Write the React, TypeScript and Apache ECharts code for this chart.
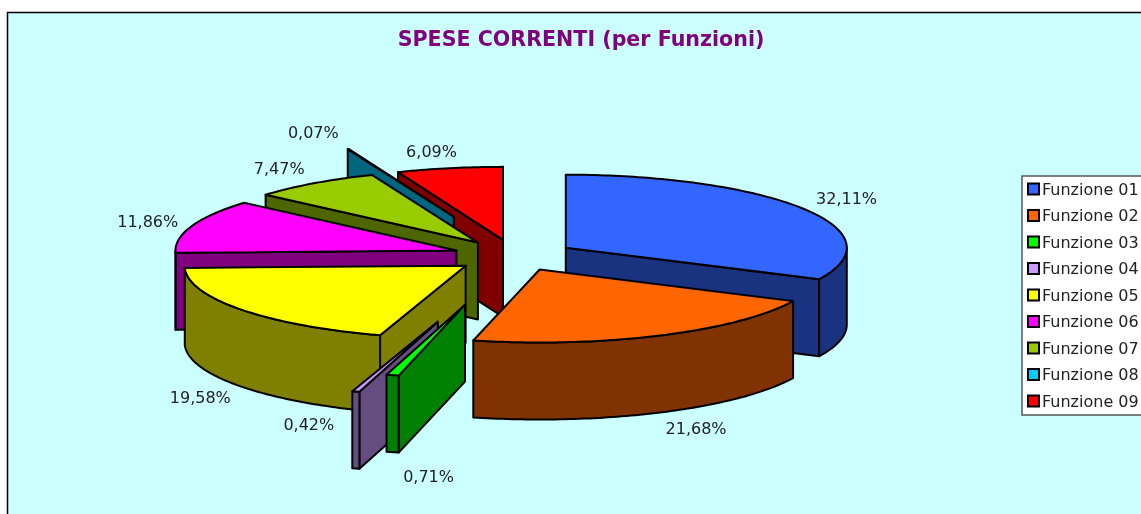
import React, { useEffect, useRef } from "react";
import * as echarts from "echarts";

const categories = ["Funzione 01","Funzione 02","Funzione 03","Funzione 04","Funzione 05","Funzione 06","Funzione 07","Funzione 08","Funzione 09"];
const values = [32.11, 21.68, 0.71, 0.42, 19.58, 11.86, 7.47, 0.07, 6.09];
const valueLabels = ["32,11%","21,68%","0,71%","0,42%","19,58%","11,86%","7,47%","0,07%","6,09%"];
const topColors = ["#3366FF","#FF6600","#00FF00","#CC99FF","#FFFF00","#FF00FF","#99CC00","#00CCFF","#FF0000"];
const sideColors = ["#1A3380","#803300","#008000","#664D80","#808000","#800080","#4D6600","#006680","#800000"];
const explosions = [0.2135, 0.205, 0.69, 0.94, 0.22, 0.221, 0.2265, 0.58, 0.225];
const labelOffsets = [[43,-10],[36,16],[36,24],[-47,-44],[-41,11],[-44,-5],[-35,-15],[-35,-17],[-18,-16.5]];

const CX = 515, CY = 256, RX = 281, RY = 73, DEPTH = 77;
const rad = (d: number) => (d * Math.PI) / 180;
const total = values.reduce((a, b) => a + b, 0);

const spans = values.reduce((acc: number[][], v) => {
  const s = acc.length ? acc[acc.length - 1][1] : 0;
  acc.push([s, s + (v / total) * 360]);
  return acc;
}, []);
const midAngle = (i: number) => (spans[i][0] + spans[i][1]) / 2;
const apexOf = (i: number) => {
  const m = rad(midAngle(i));
  return [CX + Math.sin(m) * explosions[i] * RX, CY - Math.cos(m) * explosions[i] * RY];
};
const edge = (apex: number[], deg: number, dy = 0) => [
  apex[0] + Math.sin(rad(deg)) * RX,
  apex[1] - Math.cos(rad(deg)) * RY + dy,
];
const arc = (apex: number[], from: number, to: number, dy = 0) => {
  const pts: number[][] = [];
  const n = Math.max(1, Math.ceil(to - from));
  for (let k = 0; k <= n; k++) pts.push(edge(apex, from + ((to - from) * k) / n, dy));
  return pts;
};
// painter's order: back of the pie first, by the slice's middle direction
const drawOrder = values.map((_, i) => i).sort((p, q) => Math.cos(rad(midAngle(q))) - Math.cos(rad(midAngle(p))));

function sliceItem(i: number) {
  return (_params: any, api: any) => {
    api.value(0);
    const [a, b] = spans[i];
    const apex = apexOf(i);
    const stroke = { stroke: "#000", lineWidth: 2, lineJoin: "round" };
    const side = { ...stroke, fill: sideColors[i] };
    const children: any[] = [];
    const wall = (deg: number) => {
      const e = edge(apex, deg);
      children.push({ type: "polygon", shape: { points: [apex, e, [e[0], e[1] + DEPTH], [apex[0], apex[1] + DEPTH]] }, style: side });
    };
    if (Math.sin(rad(a)) < 0) wall(a);
    if (Math.sin(rad(b)) > 0) wall(b);
    const r0 = Math.max(a, 90), r1 = Math.min(b, 270);
    if (r1 > r0) {
      children.push({ type: "polygon", shape: { points: [...arc(apex, r0, r1), ...arc(apex, r0, r1, DEPTH).reverse()] }, style: side });
    }
    children.push({ type: "polygon", shape: { points: [apex, ...arc(apex, a, b)] }, style: { ...stroke, fill: topColors[i] } });
    const m = midAngle(i);
    const anchor = edge(apex, m, Math.cos(rad(m)) < 0 ? DEPTH : 0);
    children.push({
      type: "text",
      style: {
        text: valueLabels[i],
        x: anchor[0] + labelOffsets[i][0],
        y: anchor[1] + labelOffsets[i][1],
        align: "center",
        verticalAlign: "middle",
        fill: "#222",
        font: "16px 'DejaVu Sans'",
      },
    });
    return { type: "group", children };
  };
}

export default function App() {
  const ref = useRef<HTMLDivElement>(null);
  useEffect(() => {
    const chart = echarts.init(ref.current!, null, { renderer: "svg" });
    chart.setOption({
      animation: false,
      title: {
        text: "SPESE CORRENTI (per Funzioni)",
        left: 576,
        top: 24,
        textAlign: "center",
        textStyle: { color: "#800080", fontFamily: "DejaVu Sans", fontWeight: "bold", fontSize: 20.6, lineHeight: 20 },
      },
      legend: {
        orient: "vertical",
        left: 1022,
        top: 176,
        data: categories,
        icon: "rect",
        itemWidth: 11,
        itemHeight: 11,
        itemGap: 10.5,
        selectedMode: false,
        padding: [5, 30, 6, 5],
        backgroundColor: "#fff",
        borderColor: "#555",
        borderWidth: 1.5,
        itemStyle: { borderColor: "#000", borderWidth: 2 },
        textStyle: { color: "#222", fontFamily: "DejaVu Sans", fontSize: 16, lineHeight: 16, padding: [0, 0, 0, -2] },
      },
      graphic: [{
        type: "rect",
        z: -10,
        silent: true,
        shape: { x: 7.5, y: 12.5, width: 1300, height: 700 },
        style: { fill: "#CCFFFF", stroke: "#000", lineWidth: 1.5 },
      }],
      series: drawOrder.map((i) => ({
        type: "custom",
        name: categories[i],
        coordinateSystem: "none",
        silent: true,
        z: 2,
        itemStyle: { color: topColors[i] },
        data: [[values[i]]],
        renderItem: sliceItem(i),
      })),
    });
    return () => chart.dispose();
  }, []);
  return <div ref={ref} style={{ position: "fixed", left: 0, top: 0, width: 1141, height: 514 }} />;
}
